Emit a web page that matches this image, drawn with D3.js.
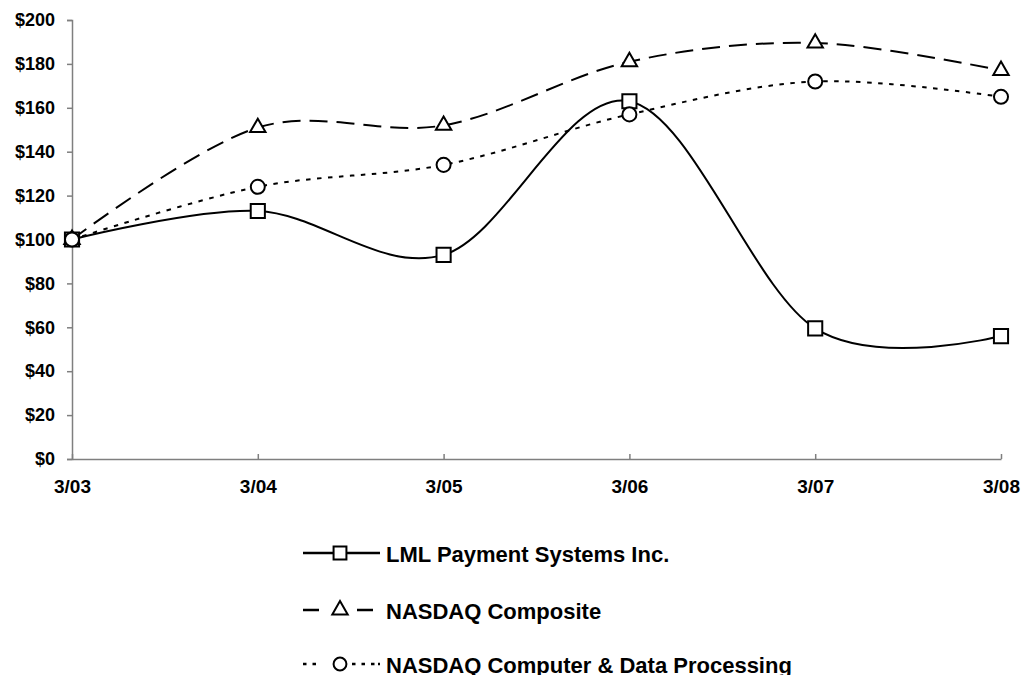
<!DOCTYPE html>
<html>
<head>
<meta charset="utf-8">
<script src="https://cdn.jsdelivr.net/npm/d3@7"></script>
<style>
body { margin: 0; background: #fff; }
text { font-family: Arial, "Liberation Sans", sans-serif; font-weight: bold; fill: #000; }
</style>
</head>
<body>
<script>
var periods = ["3/03", "3/04", "3/05", "3/06", "3/07", "3/08"];
var lmlValues = [100, 113, 93, 163, 59.5, 56];
var compositeValues = [100, 151, 152, 181, 189.5, 177];
var computerValues = [100, 124, 134, 157, 172, 165];
var yTicks = [0, 20, 40, 60, 80, 100, 120, 140, 160, 180, 200];
var seriesNames = ["LML Payment Systems Inc.", "NASDAQ Composite", "NASDAQ Computer & Data Processing"];

var svgWidth = 1025, svgHeight = 675;
var svg = d3.select("body").append("svg").attr("width", svgWidth).attr("height", svgHeight);

var x = d3.scalePoint().domain(periods).range([72, 1001]);
var y = d3.scaleLinear().domain([0, 200]).range([459, 20]);

// y axis
var yAxis = svg.append("g")
    .attr("transform", "translate(72,0)")
    .call(d3.axisLeft(y).tickValues(yTicks).tickSize(5).tickPadding(12).tickFormat(d => "$" + d));
yAxis.selectAll("text").style("font-size", "18px");

// x axis, ticks pointing up
var xAxis = svg.append("g")
    .attr("transform", "translate(0,459)")
    .call(d3.axisBottom(x).tickSize(-5).tickSizeOuter(0));
xAxis.selectAll("text").style("font-size", "19px").attr("y", 21);

svg.selectAll(".domain, .tick line").attr("stroke", "#7f7f7f").attr("stroke-width", 1.5);

var series = [
    { name: seriesNames[0], values: lmlValues, dash: null, marker: "square", legendDash: null },
    { name: seriesNames[1], values: compositeValues, dash: "18,9", marker: "triangle", legendDash: "16,38,16" },
    { name: seriesNames[2], values: computerValues, dash: "4.5,6.5", marker: "circle", legendDash: "3.5,6,3.5,36,3.5,6,3.5,6,3.5" }
];

var line = d3.line()
    .x((d, i) => x(periods[i]))
    .y(d => y(d))
    .curve(d3.curveCardinal.tension(0));

var symbols = {
    square: d3.symbol().type(d3.symbolSquare).size(200),
    triangle: d3.symbol().type(d3.symbolTriangle2).size(170),
    circle: d3.symbol().type(d3.symbolCircle).size(155)
};

series.forEach(s => {
    svg.append("path")
        .attr("d", line(s.values))
        .attr("fill", "none")
        .attr("stroke", "#000")
        .attr("stroke-width", 2)
        .attr("stroke-dasharray", s.dash);
});

series.forEach(s => {
    svg.selectAll(null)
        .data(s.values)
        .enter()
        .append("path")
        .attr("d", symbols[s.marker])
        .attr("transform", (d, i) => "translate(" + x(periods[i]) + "," + y(d) + ")")
        .attr("fill", "#fff")
        .attr("stroke", "#000")
        .attr("stroke-width", 2);
});

// legend
var legendSize = { square: 165, triangle: 170, circle: 130 };
var legendY = [553, 610, 664];
var legend = svg.selectAll(".legend")
    .data(series)
    .enter()
    .append("g")
    .attr("transform", (d, i) => "translate(0," + legendY[i] + ")");

legend.append("line")
    .attr("x1", 303).attr("x2", 380)
    .attr("y1", 0).attr("y2", 0)
    .attr("stroke", "#000")
    .attr("stroke-width", 2.5)
    .attr("stroke-dasharray", d => d.legendDash);

legend.append("path")
    .attr("d", d => d3.symbol().type(symbols[d.marker].type()).size(legendSize[d.marker])())
    .attr("transform", "translate(340,0)")
    .attr("fill", "#fff")
    .attr("stroke", "#000")
    .attr("stroke-width", 2);

legend.append("text")
    .attr("x", 386)
    .attr("y", 1.5)
    .attr("dy", "0.35em")
    .style("font-size", "22px")
    .text(d => d.name);
</script>
</body>
</html>
